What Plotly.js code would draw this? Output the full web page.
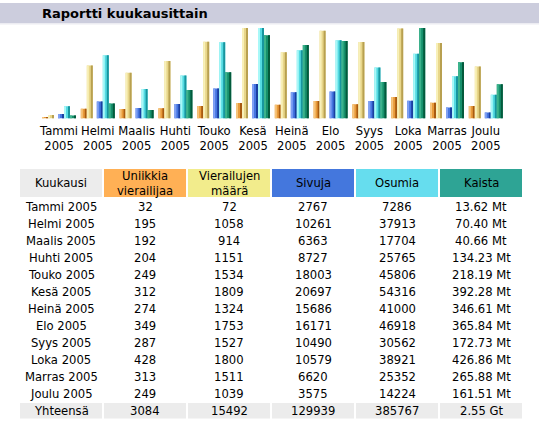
<!DOCTYPE html>
<html>
<head>
<meta charset="utf-8">
<script src="https://cdn.plot.ly/plotly-3.0.1.min.js"></script>
<style>
  html, body { margin: 0; padding: 0; background: #ffffff; }
  #chart { width: 539px; height: 429px; }
</style>
</head>
<body>
<div id="chart"></div>
<script>
// ---- Data ----
const months = ['Tammi','Helmi','Maalis','Huhti','Touko','Kesä','Heinä','Elo','Syys','Loka','Marras','Joulu'];
const year = '2005';
const uniqueVisitors = [32, 195, 192, 204, 249, 312, 274, 349, 287, 428, 313, 249];
const visits = [72, 1058, 914, 1151, 1534, 1809, 1324, 1753, 1527, 1800, 1511, 1039];
const pages = [2767, 10261, 6363, 8727, 18003, 20697, 15686, 16171, 10490, 10579, 6620, 3575];
const hits = [7286, 37913, 17704, 25765, 45806, 54316, 41000, 46918, 30562, 38921, 25352, 14224];
const bandwidthMt = [13.62, 70.40, 40.66, 134.23, 218.19, 392.28, 346.61, 365.84, 172.73, 426.86, 265.88, 161.51];
const headerLabels = ['Kuukausi', 'Uniikkia<br>vierailijaa', 'Vierailujen<br>määrä', 'Sivuja', 'Osumia', 'Kaista'];
const totalLabel = 'Yhteensä';
const totals = ['3084', '15492', '129939', '385767', '2.55 Gt'];

// ---- Derived ----
const xCats = months.map(m => m + '<br>' + year);
const FONT = 'DejaVu Sans, Verdana, sans-serif';
const FS = 11.6;
const W = 539, H = 429;
const px = v => v / W;
const py = v => 1 - v / H;

// px -> category units (category step ~38.8 px)
const step = 38.8;
const bw = 6 / step;
const strip = 2 / step;

function barSet(yvals, yaxis, off, colors, name) {
  const o = off / step;
  const common = {type: 'bar', x: xCats, y: yvals, yaxis: yaxis, hoverinfo: 'skip', showlegend: false};
  return [
    Object.assign({}, common, {name: name, offset: o, width: bw, marker: {color: colors[1], line: {width: 0}}}),
    Object.assign({}, common, {name: name + ' l', offset: o, width: strip, marker: {color: colors[0], line: {width: 0}}}),
    Object.assign({}, common, {name: name + ' d', offset: o + bw - strip, width: strip, marker: {color: colors[2], line: {width: 0}}})
  ];
}

let traces = [];
traces = traces.concat(barSet(uniqueVisitors, 'y', -17, ['#f6c47a', '#e89a3a', '#a85a10'], 'u'));
traces = traces.concat(barSet(visits, 'y', -11, ['#f8f0b8', '#e8d68a', '#b8a050'], 'v'));
traces = traces.concat(barSet(pages, 'y2', -1, ['#7fa0f4', '#4474e0', '#1a3ea0'], 'p'));
traces = traces.concat(barSet(hits, 'y2', 5, ['#a8f8f8', '#54dae2', '#17959e'], 'h'));
traces = traces.concat(barSet(bandwidthMt, 'y3', 11, ['#3cb38c', '#16906c', '#035a3c'], 'k'));

// ---- Table built from the arrays (shapes + annotations) ----
const col0 = months.map(m => m + ' ' + year).concat([totalLabel]);
const colU = uniqueVisitors.map(String).concat([totals[0]]);
const colV = visits.map(String).concat([totals[1]]);
const colP = pages.map(String).concat([totals[2]]);
const colH = hits.map(String).concat([totals[3]]);
const colK = bandwidthMt.map(v => v.toFixed(2) + ' Mt').concat([totals[4]]);
const columns = [col0, colU, colV, colP, colH, colK];
const headerColors = ['#ececec', '#ffb055', '#f2ec8c', '#4477dd', '#66ddee', '#2ea495'];

const tblLeft = 20, colStep = 84, colW = 82;
const headTop = 169, headBot = 197;
const rowTop0 = 207, rowStep = 17;

const shapes = [
  {type: 'rect', xref: 'paper', yref: 'paper', x0: 0, x1: 1, y0: py(23), y1: py(3),
   fillcolor: '#cccddd', line: {width: 0}, layer: 'below'},
  {type: 'rect', xref: 'paper', yref: 'paper', x0: 0, x1: 1, y0: py(24.5), y1: py(23),
   fillcolor: '#ececf2', line: {width: 0}, layer: 'below'}
];
const annotations = [];

headerLabels.forEach((lab, c) => {
  const x0 = tblLeft + c * colStep;
  shapes.push({type: 'rect', xref: 'paper', yref: 'paper', x0: px(x0), x1: px(x0 + colW),
               y0: py(headBot), y1: py(headTop), fillcolor: headerColors[c], line: {width: 0}, layer: 'below'});
  annotations.push({xref: 'paper', yref: 'paper', x: px(x0 + colW / 2), y: py((headTop + headBot) / 2),
                    xanchor: 'center', yanchor: 'middle', showarrow: false, text: lab,
                    font: {family: FONT, size: FS, color: '#000000'}});
});

const nRows = col0.length;
// total row background
for (let c = 0; c < columns.length; c++) {
  const x0 = tblLeft + c * colStep;
  const yc = rowTop0 + (nRows - 1) * rowStep;
  shapes.push({type: 'rect', xref: 'paper', yref: 'paper', x0: px(x0), x1: px(x0 + colW),
               y0: py(yc + 7.5), y1: py(yc - 8), fillcolor: '#ececec', line: {width: 0}, layer: 'below'});
}
columns.forEach((col, c) => {
  const xc = tblLeft + c * colStep + colW / 2;
  col.forEach((txt, r) => {
    annotations.push({xref: 'paper', yref: 'paper', x: px(xc), y: py(rowTop0 + r * rowStep),
                      xanchor: 'center', yanchor: 'middle', showarrow: false, text: txt,
                      font: {family: FONT, size: FS, color: '#000000'}});
  });
});

const yTop = py(28);
const yBot = py(118.5);

const layout = {
  width: W, height: H,
  margin: {l: 0, r: 0, t: 0, b: 0},
  paper_bgcolor: '#ffffff',
  plot_bgcolor: 'rgba(0,0,0,0)',
  barmode: 'overlay',
  showlegend: false,
  title: {
    text: '<b>Raportti kuukausittain</b>',
    x: px(42), xanchor: 'left', xref: 'paper',
    y: py(13), yanchor: 'middle', yref: 'container',
    font: {family: FONT, size: 13, color: '#000000'}
  },
  shapes: shapes,
  annotations: annotations,
  xaxis: {
    domain: [px(59 - step / 2), px(59 - step / 2 + 12 * step)],
    type: 'category',
    range: [-0.5, 11.5],
    showgrid: false, zeroline: false, showline: false, ticks: '',
    tickfont: {family: FONT, size: FS, color: '#000000'},
    ticklabelstandoff: 4,
    tickangle: 0,
    fixedrange: true
  },
  yaxis: {domain: [yBot, yTop], range: [0, Math.max(...visits)], visible: false, fixedrange: true},
  yaxis2: {overlaying: 'y', range: [0, Math.max(...hits)], visible: false, fixedrange: true},
  yaxis3: {overlaying: 'y', range: [0, Math.max(...bandwidthMt)], visible: false, fixedrange: true}
};

Plotly.newPlot('chart', traces, layout, {displayModeBar: false, staticPlot: true});
</script>
</body>
</html>
